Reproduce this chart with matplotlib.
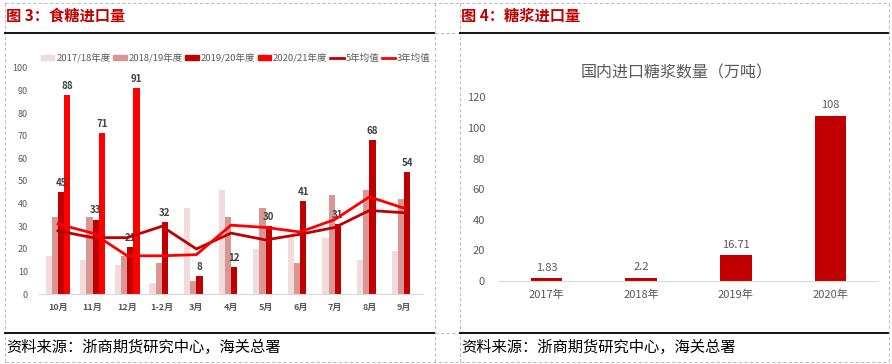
import numpy as np
import matplotlib
matplotlib.use('Agg')
import matplotlib.pyplot as plt
from matplotlib.lines import Line2D
from matplotlib.patches import Patch

plt.rcParams['font.family'] = ['Noto Sans CJK SC', 'DejaVu Sans']

# 图3 食糖进口量 (万吨)
meses = ['10月', '11月', '12月', '1-2月', '3月', '4月', '5月', '6月', '7月', '8月', '9月']
s1718 = [17, 15, 13, 5, 38, 46, 20, 26, 25, 15, 19]
s1819 = [34, 34, 17, 14, 6, 34, 38, 14, 44, 46, 42]
s1920 = [45, 33, 21, 32, 8, 12, 30, 41, 31, 68, 54]
s2021 = [88, 71, 91, None, None, None, None, None, None, None, None]
media5 = [28, 25, 25, 30, 20, 27, 24, 26.5, 29.5, 37, 36]
media3 = [31, 27, 17, 17, 17.5, 30.5, 29.5, 27.5, 33, 43, 38]
series_nomes = ['2017/18年度', '2018/19年度', '2019/20年度', '2020/21年度']

# 图4 糖浆进口量
anos = ['2017年', '2018年', '2019年', '2020年']
xarope = [1.83, 2.2, 16.71, 108]
xarope_txt = ['1.83', '2.2', '16.71', '108']

cores = ['#F2DCDB', '#D99694', '#C00000', '#FF0000']
cor_texto = '#595959'
cor_titulo = '#C00000'

W, H = 892, 364
fig = plt.figure(figsize=(W / 100, H / 100), dpi=100)
fig.patch.set_facecolor('white')


def fx(px):
    return px / W


def fy(py):
    return 1 - py / H


def linha(x0, x1, y0, y1, **kw):
    fig.add_artist(Line2D([fx(x0), fx(x1)], [fy(y0), fy(y1)], transform=fig.transFigure, **kw))


# bordas tracejadas das células
tracejado = dict(color='#BFBFBF', lw=0.8, ls=(0, (3, 2)))
for x in [4.5, 434.5, 459.5, 888.5]:
    linha(x, x, 2.5, 361.5, **tracejado)
for y in [2.5, 361.5]:
    linha(4.5, 888.5, y, y, **tracejado)
linha(434.5, 459.5, 32.5, 32.5, **tracejado)
linha(434.5, 459.5, 332.5, 332.5, **tracejado)

# linhas pretas de título e rodapé
for a, b in [(5, 434), (460, 888)]:
    linha(a, b, 32.5, 32.5, color='black', lw=1.3)
    linha(a, b, 332.5, 332.5, color='black', lw=1.3)

fig.text(fx(6), fy(16), '图 3：食糖进口量', color=cor_titulo, fontsize=11, fontweight='bold', va='center')
fig.text(fx(461), fy(16), '图 4：糖浆进口量', color=cor_titulo, fontsize=11, fontweight='bold', va='center')
fig.text(fx(6), fy(347), '资料来源：浙商期货研究中心，海关总署', color='black', fontsize=11, va='center')
fig.text(fx(461), fy(347), '资料来源：浙商期货研究中心，海关总署', color='black', fontsize=11, va='center')

# ---------- gráfico esquerdo ----------
ax = fig.add_axes([fx(39), fy(294.3), fx(423 - 39), (294.3 - 67.7) / H])
x = np.arange(len(meses))
bw = 0.18
todas = [s1718, s1819, s1920, s2021]
for i, (vals, cor) in enumerate(zip(todas, cores)):
    xs = [xi + (i - 1.5) * bw for xi, v in zip(x, vals) if v is not None]
    vs = [v for v in vals if v is not None]
    bars = ax.bar(xs, vs, width=bw, color=cor, zorder=2)
    if i >= 2:
        ax.bar_label(bars, labels=[str(v) for v in vs], padding=3, fontsize=7,
                     fontweight='bold', color='#404040')

ax.plot(x, media5, color='#C00000', lw=2, zorder=3)
ax.plot(x, media3, color='#FF0000', lw=2, zorder=3)

ax.set_ylim(0, 100)
ax.set_yticks(range(0, 101, 10))
ax.set_xlim(-0.55, len(meses) - 0.45)
ax.set_xticks(x)
ax.set_xticklabels(meses, fontsize=6.5, fontweight='bold', color=cor_texto)
ax.tick_params(axis='y', labelsize=6.5, colors=cor_texto, length=0, pad=8)
ax.tick_params(axis='x', length=0, pad=6)
for lado in ['top', 'right', 'left']:
    ax.spines[lado].set_visible(False)
ax.spines['bottom'].set_color('#D9D9D9')

handles = [Patch(color=c) for c in cores] + [
    Line2D([], [], color='#C00000', lw=2), Line2D([], [], color='#FF0000', lw=2)]
nomes = series_nomes + ['5年均值', '3年均值']
fig.legend(handles, nomes, loc='center', bbox_to_anchor=(fx(236), fy(58)), ncol=6,
           frameon=False, fontsize=6.8, labelcolor=cor_texto, handlelength=1.4,
           handleheight=0.5, handletextpad=0.2, columnspacing=0.3)

# ---------- gráfico direito ----------
ax2 = fig.add_axes([fx(499), fy(281), fx(878 - 499), (281 - 97.3) / H])
x2 = np.arange(len(anos))
bars2 = ax2.bar(x2, xarope, width=0.33, color='#C00000', zorder=2)
ax2.bar_label(bars2, labels=xarope_txt, padding=4, fontsize=8, color=cor_texto)
ax2.set_ylim(0, 120)
ax2.set_yticks(range(0, 121, 20))
ax2.set_xlim(-0.5, len(anos) - 0.5)
ax2.set_xticks(x2)
ax2.set_xticklabels(anos, fontsize=8, color=cor_texto)
ax2.tick_params(axis='y', labelsize=8, colors=cor_texto, length=0, pad=10)
ax2.tick_params(axis='x', length=0, pad=6)
for lado in ['top', 'right', 'left']:
    ax2.spines[lado].set_visible(False)
ax2.spines['bottom'].set_color('#D9D9D9')
fig.text(fx(677), fy(73), '国内进口糖浆数量（万吨）', color=cor_texto, fontsize=11.5,
         ha='center', va='center')

fig.savefig('out.png', dpi=100, facecolor='white')
plt.close(fig)
